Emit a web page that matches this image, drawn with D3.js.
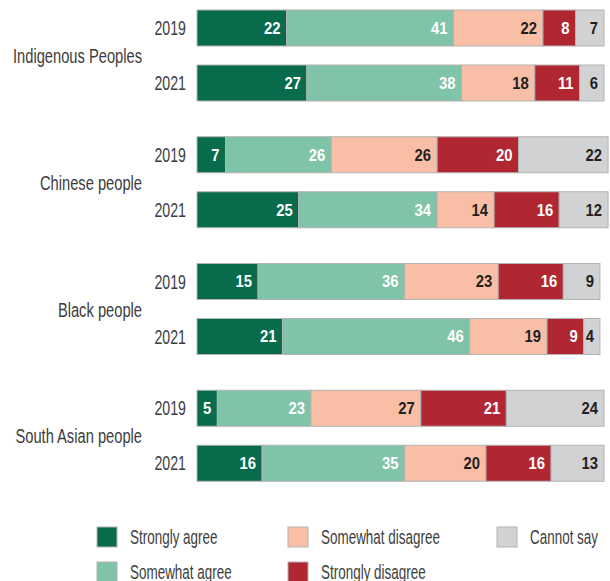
<!DOCTYPE html>
<html>
<head>
<meta charset="utf-8">
<script src="https://cdn.jsdelivr.net/npm/d3@7"></script>
<style>
  html, body { margin: 0; padding: 0; background: #fff; }
  svg { display: block; }
  text { font-family: "Liberation Sans", Arial, sans-serif; }
</style>
</head>
<body>
<svg id="chart" width="610" height="581"></svg>
<script>
// Response categories, in stacking order
const categories = ["Strongly agree", "Somewhat agree", "Somewhat disagree", "Strongly disagree", "Cannot say"];
const colors = ["#076b4c", "#7fc3a8", "#f9bea6", "#b12731", "#d1d2d4"];
const labelColors = ["#ffffff", "#ffffff", "#231f20", "#ffffff", "#231f20"];

const groups = ["Indigenous Peoples", "Chinese people", "Black people", "South Asian people"];
const years = ["2019", "2021"];

// Percentages per group, per year, in category order
const indigenous2019 = [22, 41, 22, 8, 7];
const indigenous2021 = [27, 38, 18, 11, 6];
const chinese2019 = [7, 26, 26, 20, 22];
const chinese2021 = [25, 34, 14, 16, 12];
const black2019 = [15, 36, 23, 16, 9];
const black2021 = [21, 46, 19, 9, 4];
const southAsian2019 = [5, 23, 27, 21, 24];
const southAsian2021 = [16, 35, 20, 16, 13];

const rows = [
  { group: groups[0], year: years[0], values: indigenous2019 },
  { group: groups[0], year: years[1], values: indigenous2021 },
  { group: groups[1], year: years[0], values: chinese2019 },
  { group: groups[1], year: years[1], values: chinese2021 },
  { group: groups[2], year: years[0], values: black2019 },
  { group: groups[2], year: years[1], values: black2021 },
  { group: groups[3], year: years[0], values: southAsian2019 },
  { group: groups[3], year: years[1], values: southAsian2021 }
];

const svg = d3.select("#chart");
const textGrey = "#3d3d3d";

const x = d3.scaleLinear().domain([0, 100]).range([197, 604]);
const yGroup = d3.scaleBand().domain(groups).range([10, 517]);
const yYear = d3.scaleBand().domain(years).range([0, 91]).paddingInner(19 / 55);

const barTop = r => yGroup(r.group) + yYear(r.year);
const bh = yYear.bandwidth();

// Narrow type: squeeze text horizontally around its anchor point
const place = (px, py, sx) => `translate(${px},${py}) scale(${sx},1)`;

// Stack each row into segments
const segments = [];
rows.forEach(r => {
  let acc = 0;
  r.values.forEach((v, i) => {
    segments.push({ row: r, i, v, x0: acc, x1: acc + v });
    acc += v;
  });
});

const bars = svg.append("g");
bars.selectAll("rect")
  .data(segments)
  .join("rect")
  .attr("x", d => x(d.x0))
  .attr("y", d => barTop(d.row))
  .attr("width", d => x(d.x1) - x(d.x0))
  .attr("height", bh)
  .attr("fill", d => colors[d.i])
  .attr("stroke", "#b3b3b3")
  .attr("stroke-width", 1);

bars.selectAll("text")
  .data(segments)
  .join("text")
  .attr("transform", d => place(x(d.x1) - 6, barTop(d.row) + bh / 2, 0.9))
  .attr("dy", "0.36em")
  .attr("text-anchor", "end")
  .attr("font-size", 16.5)
  .attr("font-weight", "bold")
  .attr("fill", d => labelColors[d.i])
  .text(d => d.v);

// Year labels
svg.append("g").selectAll("text")
  .data(rows)
  .join("text")
  .attr("transform", d => place(186, barTop(d) + bh / 2, 0.71))
  .attr("dy", "0.36em")
  .attr("text-anchor", "end")
  .attr("font-size", 20)
  .attr("fill", textGrey)
  .text(d => d.year);

// Group labels, centred between the two years
svg.append("g").selectAll("text")
  .data(groups)
  .join("text")
  .attr("transform", g => place(142, yGroup(g) + 91 / 2, 0.7))
  .attr("dy", "0.36em")
  .attr("text-anchor", "end")
  .attr("font-size", 21)
  .attr("fill", textGrey)
  .text(g => g);

// Legend
const legendPos = [
  [97, 527], [97, 562],
  [288, 527], [288, 562],
  [497, 527]
];
const legend = svg.append("g").selectAll("g")
  .data(categories)
  .join("g")
  .attr("transform", (d, i) => `translate(${legendPos[i][0]},${legendPos[i][1]})`);
legend.append("rect")
  .attr("width", 20).attr("height", 20)
  .attr("fill", (d, i) => colors[i])
  .attr("stroke", "#b3b3b3");
legend.append("text")
  .attr("transform", place(33, 10, 0.69))
  .attr("dy", "0.36em")
  .attr("font-size", 19.5)
  .attr("fill", textGrey)
  .text(d => d);
</script>
</body>
</html>
